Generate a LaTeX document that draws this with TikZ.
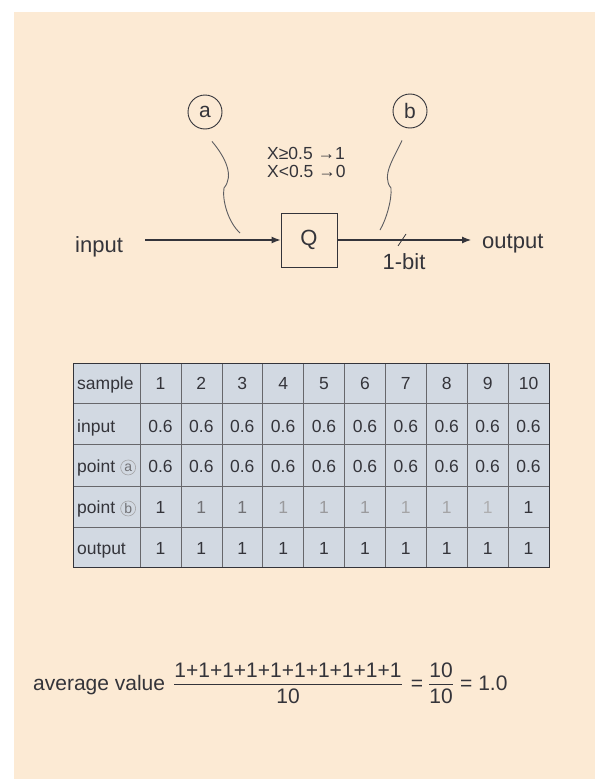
\documentclass[tikz,border=0pt]{standalone}
\usepackage{fontspec}
\setmainfont{Liberation Sans}
\usetikzlibrary{arrows.meta,positioning}
\definecolor{paper}{RGB}{252,234,212}
\definecolor{tablefill}{RGB}{210,217,226}
\definecolor{ink}{RGB}{52,52,58}

\begin{document}
\begin{tikzpicture}[x=1pt,y=-1pt,
  lbl/.style={font=\fontsize{22}{26}\selectfont,text=ink,inner sep=0pt},
  eqn/.style={font=\fontsize{21}{24}\selectfont,text=ink,inner sep=0pt},
  cond/.style={font=\fontsize{17.5}{20}\selectfont,text=ink,inner sep=0pt},
  box/.style={draw=ink,line width=1pt,minimum width=56pt,minimum height=54pt,inner sep=0pt,font=\fontsize{22}{26}\selectfont,text=ink},
  tag/.style={circle,draw=ink,line width=0.9pt,minimum size=34pt,inner sep=0pt,font=\fontsize{21}{24}\selectfont,text=ink},
  minitag/.style={circle,draw=ink!45,line width=0.6pt,minimum size=15pt,inner sep=0pt,font=\fontsize{14}{16}\selectfont,text=ink!70},
  cell/.style={font=\fontsize{17.5}{20}\selectfont,text=ink,inner sep=0pt,anchor=base},
  rowname/.style={cell,anchor=base west},
  gridline/.style={draw=ink!75,line width=0.6pt},
  arr/.style={-{Latex[length=9pt,width=7pt]},draw=ink,line width=1.1pt},
  leader/.style={draw=ink!80,line width=0.9pt},
  rule/.style={draw=ink,line width=0.8pt}
]
\fill[white] (0,0) rectangle (595,779);
\fill[paper] (14,12) rectangle (595,779);
\useasboundingbox (0,0) rectangle (595,779);

% quantizer
\node[box] (q) at (309,240) {Q};
\node[lbl,anchor=base west] (in) at (75,252) {input};
\node[lbl,anchor=base west] (out) at (482,248) {output};
\node[lbl,anchor=base] (bits) at (404,269) {1-bit};
\node[cond,anchor=base west] (rule1) at (267,159) {X≥0.5 →1};
\node[cond,anchor=base west] (rule0) at (267,177) {X<0.5 →0};
\node[tag] (pa) at (205,112) {a};
\node[tag] (pb) at (410,111) {b};
\coordinate (src) at (145,240);
\coordinate (dst) at (471,240);
\coordinate (cut) at (402,240);
\coordinate (ta) at (240,233);
\coordinate (tb) at (380,230);
\draw[arr] (src) -- (q.west);
\draw[arr] (q.east) -- (dst);
\draw[rule] ([shift={(-4,6)}]cut) -- ([shift={(4,-6)}]cut);
\draw[leader] ([shift={(7,12)}]pa.south) .. controls (226,158) and (234,176) .. (224,188)
  .. controls (222,200) and (228,222) .. (ta);
\draw[leader] ([shift={(-8,12)}]pb.south) .. controls (394,158) and (381,176) .. (391,188)
  .. controls (392,200) and (386,220) .. (tb);

% table
\fill[tablefill] (73,363) rectangle (549,567);
\foreach \c in {0,...,9}
  \draw[gridline] ({140+40.9*\c},363) -- ({140+40.9*\c},567);
\foreach \y in {403,444,486,527}
  \draw[gridline] (73,\y) -- (549,\y);
\draw[ink,line width=0.9pt] (73,363) rectangle (549,567);
\foreach \r/\y/\t in {1/389/sample,2/432/input,3/472/point,4/513/point,5/554/output}
  \node[rowname] (r\r) at (77,\y) {\t};
\node[minitag,right=5pt of r3] (ca) {a};
\node[minitag,right=5pt of r4] (cb) {b};
\foreach \c in {1,...,10} {
  \pgfmathsetmacro\cx{140+40.9*(\c-0.5)}
  \node[cell] (h\c) at (\cx,389) {\c};
  \node[cell] (i\c) at (\cx,432) {0.6};
  \node[cell] (a\c) at (\cx,472) {0.6};
  \node[cell] (o\c) at (\cx,554) {1};
}
\foreach \c/\s in {1/100,2/70,3/70,4/50,5/50,6/50,7/45,8/45,9/40,10/100}
  \node[cell,text=ink!\s] (b\c) at ({140+40.9*(\c-0.5)},513) {1};

% average
\coordinate (axis) at (0,684);
\node[eqn,anchor=base west] (avg) at (33,690) {average value};
\node[eqn,anchor=base] (num) at (288,677) {1+1+1+1+1+1+1+1+1+1};
\node[eqn,anchor=base] (den) at (288,703) {10};
\draw[rule] (num.west |- axis) -- (num.east |- axis);
\node[eqn,anchor=base] (eq) at (417,690) {=};
\node[eqn,anchor=base] (num2) at (441,677) {10};
\node[eqn,anchor=base] (den2) at (441,703) {10};
\draw[rule] (num2.west |- axis) -- (num2.east |- axis);
\node[eqn,anchor=base west] (res) at (460,690) {= 1.0};
\end{tikzpicture}
\end{document}
